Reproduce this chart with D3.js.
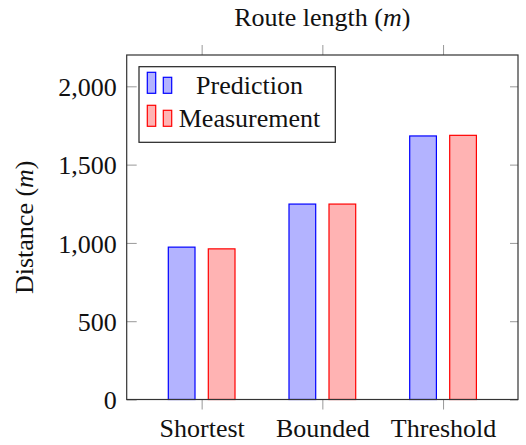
<!DOCTYPE html>
<html><head><meta charset="utf-8">
<script src="https://cdn.jsdelivr.net/npm/d3@7"></script>
<style>body{margin:0;background:#fff}svg{display:block}text{font-family:"Liberation Serif","Times New Roman",serif;fill:#111}</style>
</head><body>
<script>
const categories = ["Shortest", "Bounded", "Threshold"];
const seriesNames = ["Prediction", "Measurement"];
const prediction = [973, 1248, 1683];
const measurement = [962, 1248, 1687];
const yTicks = [0, 500, 1000, 1500, 2000];
const yMax = 2200;

const W = 526, H = 445;
const L = 126.7, R = 518, T = 55, B = 399.5;
const fs = 26;
const colors = [{fill:"#b3b3ff", stroke:"#0000ff"}, {fill:"#ffb3b3", stroke:"#ff0000"}];
const series = [prediction, measurement];

const svg = d3.select("body").append("svg").attr("width", W).attr("height", H);
const x = d3.scalePoint().domain(categories).range([L, R]).padding(0.621);
const y = d3.scaleLinear().domain([0, yMax]).range([B, T]);
const barW = 26.7, off = 20;

// bars
series.forEach((vals, si) => {
  svg.append("g").selectAll("rect").data(vals).join("rect")
    .attr("x", (d, i) => x(categories[i]) + (si === 0 ? -off : off) - barW / 2)
    .attr("y", d => y(d))
    .attr("width", barW)
    .attr("height", d => y(0) - y(d))
    .attr("fill", colors[si].fill)
    .attr("stroke", colors[si].stroke)
    .attr("stroke-width", 1.2);
});

// y ticks (inside, both sides)
const yAxisL = d3.axisLeft(y).tickValues(yTicks).tickSize(-10).tickPadding(10).tickFormat(d3.format(","));
const gy = svg.append("g").attr("transform", `translate(${L},0)`).call(yAxisL);
gy.select(".domain").remove();
gy.selectAll("line").attr("stroke", "#999").attr("stroke-width", 1);
gy.selectAll("text").attr("font-size", fs).attr("font-family", "'Liberation Serif',serif").attr("fill", "#111").attr("dy", "0.35em");
const gyr = svg.append("g").attr("transform", `translate(${R},0)`).call(d3.axisRight(y).tickValues(yTicks).tickSize(-8).tickFormat(""));
gyr.select(".domain").remove();
gyr.selectAll("line").attr("stroke", "#999").attr("stroke-width", 1);

// x ticks (outside, bottom and top)
const gx = svg.append("g").attr("transform", `translate(0,${B})`).call(d3.axisBottom(x).tickSize(10));
gx.select(".domain").remove();
gx.selectAll("line").attr("stroke", "#999").attr("stroke-width", 1);
gx.selectAll("text").attr("font-size", fs).attr("font-family", "'Liberation Serif',serif").attr("fill", "#111")
  .attr("y", 37.5).attr("dy", 0);
const gxt = svg.append("g").attr("transform", `translate(0,${T})`).call(d3.axisTop(x).tickSize(10).tickFormat(""));
gxt.select(".domain").remove();
gxt.selectAll("line").attr("stroke", "#999").attr("stroke-width", 1);

// frame
svg.append("rect").attr("x", L).attr("y", T).attr("width", R - L).attr("height", B - T)
  .attr("fill", "none").attr("stroke", "#333").attr("stroke-width", 1.2);

// title
const title = svg.append("text").attr("x", (L + R) / 2).attr("y", 26).attr("text-anchor", "middle").attr("font-size", fs);
title.append("tspan").text("Route length (");
title.append("tspan").attr("font-style", "italic").text("m");
title.append("tspan").text(")");

// y label
const yl = svg.append("text").attr("transform", `translate(33,${(T + B) / 2}) rotate(-90)`).attr("text-anchor", "middle").attr("font-size", fs);
yl.append("tspan").text("Distance (");
yl.append("tspan").attr("font-style", "italic").text("m");
yl.append("tspan").text(")");

// legend
const lg = svg.append("g");
lg.append("rect").attr("x", 139).attr("y", 66.7).attr("width", 196.3).attr("height", 75.6)
  .attr("fill", "#fff").attr("stroke", "#222").attr("stroke-width", 1.2);
seriesNames.forEach((name, i) => {
  const base = 93.3 + i * 33;
  [[147.3, 21], [163.3, 16]].forEach(([bx, bh]) => {
    lg.append("rect").attr("x", bx).attr("y", base - bh).attr("width", 8.4).attr("height", bh)
      .attr("fill", colors[i].fill).attr("stroke", colors[i].stroke).attr("stroke-width", 1.2);
  });
  lg.append("text").attr("x", 249.5).attr("y", base + 1).attr("text-anchor", "middle").attr("font-size", fs).text(name);
});
</script>
</body></html>
